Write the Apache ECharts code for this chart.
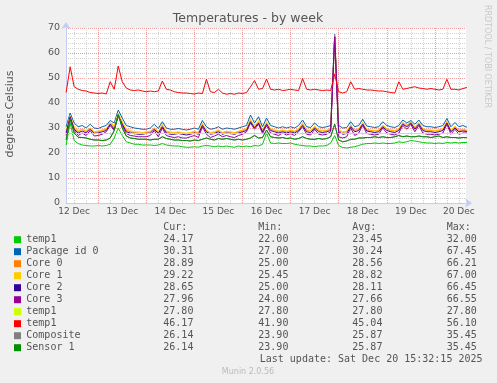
<!DOCTYPE html>
<html><head><meta charset="utf-8">
<script src="https://cdn.jsdelivr.net/npm/echarts@6/dist/echarts.min.js"></script>
<style>html,body{margin:0;padding:0;background:#F0F0F0;}#c{width:497px;height:383px;}</style>
</head><body><div id="c"></div>
<script>
// hours since 12 Dec 00:00
const startHour = 8;
const stepHours = 2;
const axisStart = 7.93;   // 12 Dec 07:56
const axisEnd = 207.53;   // 20 Dec 15:32
const dayLabels = ['12 Dec','13 Dec','14 Dec','15 Dec','16 Dec','17 Dec','18 Dec','19 Dec','20 Dec'];
const yTicks = [0,10,20,30,40,50,60,70];

const temp1Green = [23.2,32,25,23.8,23.2,23,22.8,22.8,23,22.8,
 23,23.5,26,30,27,24.5,24,23.5,23.5,23.2,
 23.2,23.2,23,23.2,23.8,23.2,23,22.8,22.8,22.5,
 22.3,22.3,22.5,22.3,22.8,23,22.8,22.5,22.8,22.5,
 22.8,22.5,22.3,22.8,22.5,22.8,22.5,23,22.8,23.5,
 28,24,23.8,24,23.8,23.8,24,23.5,23.2,23,
 22.8,22.8,22.5,22.8,22.8,23,24,27,23,22.2,
 22,22.3,22.5,23,23.5,23.8,23.8,24,23.8,24,
 23.8,23.8,24,24.5,24.2,24.5,25,24.8,24.5,24.2,
 24,24,23.8,24,23.8,24.2,24,24.2,24,24.2,
 24.2];
const packageId0 = [30.5,36,32,30.5,31,30,31.5,30,29.8,30.5,
 31,33,32,37.2,34,31,30.5,30,29.8,29.5,
 29.5,30,31.5,29.8,32.5,30,29.5,29.5,29.8,29.5,
 29.2,29.5,30,29.5,33,30.5,29.5,29.8,30.5,29.5,
 30,29.8,29.5,30,30.5,31,35.2,32,34.5,30.5,
 34,31,30.5,30,30.5,30,30.5,30,31,33.2,
 30.5,30.2,32,30.5,30.2,30.5,31,67.45,31,30,
 30.2,32.5,30.5,31,33.5,30.8,30.5,30.2,30.5,32.5,
 31,30.5,30.2,31,33.2,32,33,31.5,33.2,31,
 30.5,30.5,30.2,30.5,31,33.8,30.5,32.2,30.5,31,
 30.3];
const core0 = [28.5,34,30,28.5,29.5,28.5,30,28.2,28.5,29,
 29.5,32,30,35.5,32,29,28.5,28.2,28,28,
 28.2,28.5,30,28.2,31,28.5,28,28,28.2,27.8,
 27.8,28,28.5,28,31.5,29,28,28.2,29,28,
 28.5,28.2,28,28.5,29,29.5,33,30.5,32.5,29,
 32,29.5,29,28.5,29,28.5,29,28.5,29.5,31.5,
 29,28.8,30.5,29,28.8,29,29.5,66.2,29,28.2,
 28.5,31,29,29.5,32,29.2,29,28.8,29,31,
 29.5,29,28.8,29.5,32,31,32.5,30,32,29.5,
 29,29,28.8,29,29.5,32.5,29,30.5,29,29.2,
 28.9];
const core1 = [29,35,30.5,29,29.5,29,30,28.5,28.8,29.2,
 29.8,32,31,36,32.5,29.5,29,28.5,28.5,28.2,
 28.5,28.8,30,28.5,31.5,28.8,28.5,28.2,28.5,28.2,
 28,28.2,28.8,28.2,32,29,28.2,28.5,29.2,28.2,
 28.8,28.5,28.2,28.8,29.2,29.8,33.5,30.5,33,29.2,
 32.5,29.8,29.2,28.8,29.2,28.8,29.2,28.8,29.8,32,
 29.2,29,30.8,29.2,29,29.2,29.8,67,29.2,28.5,
 28.8,31.2,29.2,29.8,32.2,29.5,29.2,29,29.2,31.2,
 29.8,29.2,29,29.8,32.2,31.2,32.5,30.5,32.2,29.8,
 29.2,29.2,29,29.2,29.8,32.8,29.2,30.8,29.2,29.5,
 29.2];
const core2 = [28,34.5,29.5,28,28.8,28,29.5,27.8,28,28.5,
 29,31.5,29.5,35,31.5,28.5,28,27.8,27.5,27.5,
 27.8,28,29.5,27.8,30.5,28,27.5,27.5,27.8,27.5,
 27.2,27.5,28,27.5,31,28.5,27.5,27.8,28.5,27.5,
 28,27.8,27.5,28,28.5,29,32.5,30,32,28.5,
 31.5,29,28.5,28,28.5,28,28.5,28,29,31,
 28.5,28.2,30,28.5,28.2,28.5,29,66.45,28.5,27.5,
 27.8,30.5,28.5,29,31.5,28.8,28.5,28.2,28.5,30.5,
 29,28.5,28.2,29,31.5,30.5,32,29.5,31.5,29,
 28.5,28.5,28.2,28.5,29,32,28.5,30,28.5,28.8,
 28.6];
const core3 = [27,34,29,27,28,27,29,26.8,27,27.5,
 28.5,31,29,35,31,27.8,27,26.8,26.5,26.5,
 26.5,27,29,26.5,30,27,26.5,26.2,26.5,26,
 26,26.5,27,26.2,30.5,27.5,26.2,26.8,27.5,26.5,
 27,26.5,26.2,27,27.5,28.5,32,29.5,31.5,27.8,
 31,28,27.5,27,28,27.2,27.8,27,28.5,30.5,
 27.5,27.2,29.5,27.5,27.2,27.5,28.5,66.55,26.5,26,
 26.5,30,27,28,31,27.8,27.5,27.2,27.5,30,
 28,27.5,27.2,28,31,29.5,31.5,28.5,31,28,
 27.5,27.5,27.2,27.5,28,31.5,27.5,29.5,27.5,28,
 28];
const temp1Lime = [27.8,27.8,27.8,27.8,27.8,27.8,27.8,27.8,27.8,27.8,
 27.8,27.8,27.8,27.8,27.8,27.8,27.8,27.8,27.8,27.8,
 27.8,27.8,27.8,27.8,27.8,27.8,27.8,27.8,27.8,27.8,
 27.8,27.8,27.8,27.8,27.8,27.8,27.8,27.8,27.8,27.8,
 27.8,27.8,27.8,27.8,27.8,27.8,27.8,27.8,27.8,27.8,
 27.8,27.8,27.8,27.8,27.8,27.8,27.8,27.8,27.8,27.8,
 27.8,27.8,27.8,27.8,27.8,27.8,27.8,27.8,27.8,27.8,
 27.8,27.8,27.8,27.8,27.8,27.8,27.8,27.8,27.8,27.8,
 27.8,27.8,27.8,27.8,27.8,27.8,27.8,27.8,27.8,27.8,
 27.8,27.8,27.8,27.8,27.8,27.8,27.8,27.8,27.8,27.8,
 27.8];
const temp1Red = [44.2,54.5,46.5,45.5,45,44.8,44.2,44,43.8,44,
 43.6,48.5,45.5,54.8,48.5,46,45.2,45,45.2,44.8,
 44.5,44.8,44.5,44.8,48.8,45.5,45.2,44.5,44.2,44,
 44,43.8,43.6,44,43.8,49.5,44.5,44.2,45.5,44,
 43.5,43.8,43.5,44,43.8,44.2,46.5,49,45.5,45.8,
 49.6,45.5,45.2,45.5,45,45.2,45.5,45.2,45,49.8,
 45.5,45.2,45.5,45.2,45,45.2,45,51.5,44.5,44,
 44.5,48.5,45.5,45.8,45.5,45.2,45.2,45,44.8,44.8,
 44.5,44.2,44,48.5,45.5,45.8,46.2,46.5,46,45.8,
 45.5,45.8,45.5,45.2,45.5,49.5,45.5,45.5,45.2,45.8,
 46.2];
const sensor1 = [25.2,33.5,28,26.3,26.2,26,25.5,25.2,25.2,25,
 25.2,26,29,35.4,30,26.8,26,25.8,25.5,25.5,
 25.5,25.2,25.5,25.5,26.5,25.8,25.5,25.2,25.2,25,
 25,24.8,25.2,25,25.5,26,25.5,25.2,25.8,25.5,
 25.8,25.5,25.2,25.5,25.2,25.5,26,27,26,26.2,
 29.2,26.5,26.2,26,26.2,25.8,26,25.5,25.8,26.5,
 25.8,25.5,25.5,25.8,25.5,25.8,26.5,31.5,25.2,24.5,
 24.8,25.5,25.5,26,26,26.2,26.2,26.5,26.2,26.5,
 26.2,26.2,26.5,27,26.5,26.8,26.5,26.5,26.8,26.5,
 26.5,26.2,26.5,26.8,26.2,26.5,26.2,26.2,26,26.2,
 26.1];
const composite = sensor1; // identical readings (same legend stats)

const seriesNames = ['temp1','Package id 0','Core 0','Core 1','Core 2','Core 3','temp1','temp1','Composite','Sensor 1'];
const seriesColors = ['#00CC00','#0066B3','#FF8000','#FFCC00','#330099','#990099','#CCFF00','#FF0000','#808080','#008F00'];
const seriesData = [temp1Green, packageId0, core0, core1, core2, core3, temp1Lime, temp1Red, composite, sensor1];
const curVals = ['24.17','30.31','28.89','29.22','28.65','27.96','27.80','46.17','26.14','26.14'];
const minVals = ['22.00','27.00','25.00','25.45','25.00','24.00','27.80','41.90','23.90','23.90'];
const avgVals = ['23.45','30.24','28.56','28.82','28.11','27.66','27.80','45.04','25.87','25.87'];
const maxVals = ['32.00','67.45','66.21','67.00','66.45','66.55','27.80','56.10','35.45','35.45'];
const lastUpdate = 'Last update: Sat Dec 20 15:32:15 2025';

const times = temp1Red.map((_, i) => startHour + i * stepHours);
const dayLines = []; for (let t = 24; t < axisEnd; t += 24) dayLines.push(t);
const minorLines = []; for (let t = 12; t < axisEnd; t += 6) if (t % 24) minorLines.push(t);
const labelTimes = dayLabels.map((_, k) => 12 + 24 * k);

const chart = echarts.init(document.getElementById('c'), null, {renderer: 'canvas', width: 497, height: 383});

const MONO = '10px "DejaVu Sans Mono"';
const TXT = '#555';
const graphics = [
  {type:'text', x:248, y:19, style:{text:'Temperatures - by week', font:'12.5px "DejaVu Sans"', fill:TXT, align:'center', verticalAlign:'middle'}},
  {type:'text', x:10.5, y:114, rotation:Math.PI/2, style:{text:'degrees Celsius', font:'11px "DejaVu Sans"', fill:TXT, align:'center', verticalAlign:'middle'}},
  {type:'text', x:487, y:5, rotation:-Math.PI/2, style:{text:'RRDTOOL / TOBI OETIKER', font:'8px "DejaVu Sans"', fill:'#C8C8C8', align:'left', verticalAlign:'middle'}},
  {type:'text', x:163.3, y:227.7, style:{text:'Cur:', font:MONO, fill:TXT, align:'left', verticalAlign:'middle'}},
  {type:'text', x:258.3, y:227.7, style:{text:'Min:', font:MONO, fill:TXT, align:'left', verticalAlign:'middle'}},
  {type:'text', x:352.3, y:227.7, style:{text:'Avg:', font:MONO, fill:TXT, align:'left', verticalAlign:'middle'}},
  {type:'text', x:446.7, y:227.7, style:{text:'Max:', font:MONO, fill:TXT, align:'left', verticalAlign:'middle'}},
  {type:'text', x:482.5, y:359.7, style:{text:lastUpdate, font:MONO, fill:TXT, align:'right', verticalAlign:'middle'}},
  {type:'text', x:248, y:372, style:{text:'Munin 2.0.56', font:'8px "DejaVu Sans"', fill:'#BBBBBB', align:'center', verticalAlign:'middle'}}
];
seriesNames.forEach((n, k) => {
  const y = 239.7 + 12 * k;
  graphics.push({type:'rect', shape:{x:14, y:y-3.5, width:7, height:7}, style:{fill:seriesColors[k]}});
  graphics.push({type:'text', x:26.3, y:y, style:{text:n, font:MONO, fill:TXT, align:'left', verticalAlign:'middle'}});
  graphics.push({type:'text', x:163.3, y:y, style:{text:curVals[k], font:MONO, fill:TXT, align:'left', verticalAlign:'middle'}});
  graphics.push({type:'text', x:258.3, y:y, style:{text:minVals[k], font:MONO, fill:TXT, align:'left', verticalAlign:'middle'}});
  graphics.push({type:'text', x:352.3, y:y, style:{text:avgVals[k], font:MONO, fill:TXT, align:'left', verticalAlign:'middle'}});
  graphics.push({type:'text', x:446.7, y:y, style:{text:maxVals[k], font:MONO, fill:TXT, align:'left', verticalAlign:'middle'}});
});

const axisLineStyle = {color:'#C4CCF4', width:1};
const series = [{
  type:'line', data:[], z:1, silent:true,
  markLine:{silent:true, z:1, symbol:['none','none'], label:{show:false}, animation:false,
    data: minorLines.map(t => ({xAxis:t, lineStyle:{color:'#D2D2D2', type:'dotted', width:1}}))
      .concat(dayLines.map(t => ({xAxis:t, lineStyle:{color:'#EE9C9C', type:'dotted', width:1}})))}
}];
seriesData.forEach((arr, k) => {
  series.push({
    name: seriesNames[k] + '_' + k, type:'line', z: 3 + k, showSymbol:false, symbol:'none', clip:true,
    lineStyle:{color:seriesColors[k], width:1}, itemStyle:{color:seriesColors[k]},
    data: arr.map((v, i) => [times[i], v]), animation:false
  });
});

chart.setOption({
  backgroundColor:'#F0F0F0',
  animation:false,
  grid:{left:66, right:31, top:28, height:175, show:true, backgroundColor:'#FFFFFF', borderWidth:0},
  xAxis:{type:'value', min:axisStart, max:axisEnd,
    axisLine:{show:true, lineStyle:axisLineStyle, symbol:['none','arrow'], symbolSize:[7,7], symbolOffset:[0,6]},
    axisTick:{show:false}, splitLine:{show:false},
    axisLabel:{customValues:labelTimes, color:TXT, fontSize:9, fontFamily:'DejaVu Sans', margin:4,
      formatter: v => dayLabels[Math.round((v - 12) / 24)]}},
  yAxis:{type:'value', min:yTicks[0], max:yTicks[yTicks.length-1], interval:10,
    axisLine:{show:true, lineStyle:axisLineStyle, symbol:['none','arrow'], symbolSize:[7,7], symbolOffset:[0,6]},
    axisTick:{show:false},
    axisLabel:{color:TXT, fontSize:9.5, fontFamily:'DejaVu Sans', margin:6},
    splitLine:{show:true, lineStyle:{color:'#EE9C9C', type:'dotted', width:1}},
    minorTick:{show:false, splitNumber:5},
    minorSplitLine:{show:true, lineStyle:{color:'#D2D2D2', type:'dotted', width:1}}},
  series: series,
  graphic: graphics
});
</script></body></html>
